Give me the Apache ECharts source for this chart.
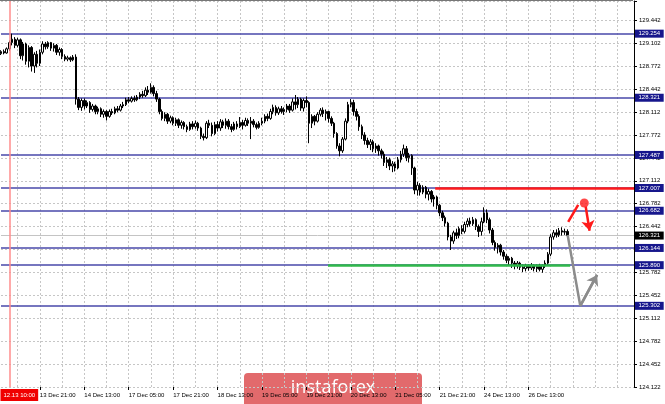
<!DOCTYPE html>
<html><head><meta charset="utf-8">
<script src="https://cdn.jsdelivr.net/npm/echarts@6/dist/echarts.min.js"></script>
<style>html,body{margin:0;padding:0;background:#fff}#c{width:665px;height:404px}</style>
</head><body><div id="c"></div>
<script>
// ---- data ----
const yTickLabels = ['124.122','124.452','124.782','125.112','125.452','125.782','126.112','126.442','126.782','127.112','127.442','127.772','128.112','128.442','128.772','129.102','129.442'];
const xTickLabels = ['13 Dec 21:00','14 Dec 13:00','17 Dec 05:00','17 Dec 21:00','18 Dec 13:00','19 Dec 05:00','19 Dec 21:00','20 Dec 13:00','21 Dec 05:00','21 Dec 21:00','24 Dec 13:00','26 Dec 13:00'];
const levels = [129.254, 128.321, 127.487, 127.007, 126.682, 126.144, 125.890, 125.302];
const currentPrice = 126.321;
const separatorIndex = 3;
const separatorLabel = '12.13 10:00';
const slotCount = 229;
const firstLabelSlot = 14, labelEvery = 16, gridEvery = 8, firstGridSlot = 6;
const redLevel = 127.007, redLevelFrom = 156.4;
const greenLevel = 125.89, greenFrom = 117.8, greenTo = 205;
const grayPath = [[204.1,126.328],[208.65,125.30],[214.7,125.748]];
const redPath = [[204.3,126.517],[207.9,126.764]];
const redDot = [210.1,126.793];
const redArrow = [[210.6,126.74],[212.0,126.39]];
// candles: [open, close, low, high]
const candles = [
[128.96,128.99,128.94,129.01],[128.99,128.97,128.95,129.02],[128.97,129.03,128.96,129.05],[129.03,129.12,129.00,129.15],
[129.12,129.17,129.08,129.25],[129.17,129.08,129.04,129.20],[129.08,129.16,129.05,129.19],[129.16,128.93,128.88,129.18],
[128.93,129.10,128.86,129.13],[129.10,128.85,128.80,129.12],[128.85,129.05,128.76,129.08],[129.05,128.78,128.70,129.07],
[128.78,128.95,128.68,128.98],[128.95,128.82,128.76,129.00],[128.82,128.98,128.78,129.02],[128.98,129.10,128.95,129.14],
[129.10,129.06,129.02,129.13],[129.06,129.12,129.03,129.14],[129.12,129.04,129.00,129.13],[129.04,129.08,128.99,129.11],
[129.08,128.98,128.94,129.10],[128.98,129.02,128.93,129.05],[129.02,128.92,128.88,129.04],[128.92,128.88,128.85,128.95],
[128.88,128.90,128.85,128.93],[128.90,128.87,128.84,128.92],[128.87,128.91,128.85,128.94],[128.91,128.30,128.22,128.95],
[128.30,128.18,128.14,128.33],[128.18,128.28,128.13,128.31],[128.28,128.20,128.15,128.31],[128.20,128.25,128.17,128.28],
[128.25,128.15,128.10,128.27],[128.15,128.20,128.12,128.23],[128.20,128.12,128.08,128.22],[128.12,128.16,128.08,128.19],
[128.16,128.08,128.04,128.18],[128.08,128.12,128.03,128.15],[128.12,128.05,127.99,128.14],[128.05,128.12,128.03,128.15],
[128.12,128.10,128.07,128.16],[128.10,128.16,128.08,128.19],[128.16,128.14,128.11,128.20],[128.14,128.20,128.12,128.23],
[128.20,128.22,128.17,128.26],[128.22,128.29,128.20,128.32],[128.29,128.27,128.24,128.33],[128.27,128.31,128.25,128.34],
[128.31,128.29,128.26,128.35],[128.29,128.33,128.27,128.36],[128.33,128.37,128.30,128.40],[128.37,128.35,128.32,128.42],
[128.35,128.43,128.33,128.47],[128.43,128.40,128.36,128.49],[128.40,128.47,128.38,128.53],[128.47,128.38,128.34,128.50],
[128.38,128.30,128.26,128.42],[128.30,128.12,128.08,128.32],[128.12,128.02,127.99,128.15],[128.02,128.08,127.98,128.11],
[128.08,127.98,127.94,128.10],[127.98,128.03,127.95,128.06],[128.03,127.95,127.92,128.05],[127.95,128.00,127.91,128.03],
[128.00,127.92,127.88,128.02],[127.92,127.96,127.87,127.99],[127.96,127.90,127.86,127.98],[127.90,127.86,127.82,127.93],
[127.86,127.94,127.84,127.97],[127.94,127.90,127.86,127.98],[127.90,127.95,127.87,127.99],[127.95,127.88,127.84,127.97],
[127.88,127.76,127.72,127.90],[127.76,127.74,127.70,127.80],[127.74,127.95,127.72,127.98],[127.95,127.92,127.88,128.00],
[127.92,127.80,127.76,127.96],[127.80,127.93,127.78,127.97],[127.93,127.88,127.83,127.98],[127.88,127.97,127.84,128.01],
[127.97,127.92,127.88,128.00],[127.92,127.98,127.87,128.02],[127.98,127.90,127.86,128.01],[127.90,127.86,127.82,127.94],
[127.86,127.94,127.84,127.97],[127.94,127.90,127.86,127.98],[127.90,127.96,127.88,128.04],[127.96,127.92,127.86,128.00],
[127.92,127.99,127.90,128.03],[127.99,127.95,127.91,128.02],[127.95,127.98,127.72,128.04],[127.98,127.93,127.89,128.01],
[127.93,127.89,127.86,127.96],[127.89,127.95,127.87,127.98],[127.95,127.98,127.92,128.03],[127.98,128.05,127.95,128.08],
[128.05,128.02,127.98,128.09],[128.02,128.12,128.00,128.16],[128.12,128.18,128.08,128.22],[128.18,128.10,128.06,128.21],
[128.10,128.16,128.07,128.19],[128.16,128.12,128.09,128.20],[128.12,128.15,128.07,128.18],[128.15,128.20,128.11,128.23],
[128.20,128.14,128.10,128.23],[128.14,128.26,128.12,128.31],[128.26,128.22,128.15,128.36],[128.22,128.30,128.17,128.33],
[128.30,128.17,128.13,128.32],[128.17,128.28,128.12,128.31],[128.28,128.25,128.18,128.34],[128.25,127.95,127.66,128.27],
[127.95,128.05,127.88,128.08],[128.05,127.98,127.92,128.07],[127.98,128.08,127.96,128.11],[128.08,128.14,128.05,128.17],
[128.14,128.09,128.04,128.18],[128.09,128.12,127.99,128.15],[128.12,128.02,127.96,128.13],[128.02,127.95,127.91,128.05],
[127.95,127.80,127.74,127.97],[127.80,127.62,127.58,127.82],[127.62,127.55,127.47,127.66],[127.55,127.72,127.52,127.75],
[127.72,127.98,127.70,128.02],[127.98,128.22,127.95,128.26],[128.22,128.25,128.18,128.30],[128.25,128.12,128.06,128.29],
[128.12,128.05,127.99,128.16],[128.05,127.90,127.84,128.08],[127.90,127.78,127.72,127.93],[127.78,127.70,127.64,127.82],
[127.70,127.64,127.59,127.74],[127.64,127.68,127.56,127.72],[127.68,127.58,127.53,127.71],[127.58,127.62,127.52,127.66],
[127.62,127.55,127.48,127.64],[127.55,127.50,127.44,127.58],[127.50,127.38,127.33,127.54],[127.38,127.42,127.30,127.46],
[127.42,127.33,127.27,127.45],[127.33,127.36,127.24,127.40],[127.36,127.30,127.25,127.39],[127.30,127.42,127.28,127.46],
[127.42,127.50,127.38,127.55],[127.50,127.58,127.46,127.64],[127.58,127.45,127.40,127.62],[127.45,127.48,127.38,127.52],
[127.48,127.30,127.20,127.50],[127.30,126.98,126.92,127.32],[126.98,127.05,126.90,127.10],[127.05,126.95,126.90,127.08],
[126.95,127.02,126.92,127.05],[127.02,126.92,126.86,127.04],[126.92,126.96,126.83,127.00],[126.96,126.85,126.80,126.98],
[126.85,126.88,126.74,126.91],[126.88,126.76,126.70,126.90],[126.76,126.65,126.60,126.78],[126.65,126.58,126.53,126.68],
[126.58,126.50,126.45,126.61],[126.50,126.30,126.25,126.52],[126.30,126.24,126.11,126.33],[126.24,126.36,126.20,126.39],
[126.36,126.32,126.27,126.42],[126.32,126.42,126.28,126.45],[126.42,126.38,126.34,126.47],[126.38,126.48,126.35,126.52],
[126.48,126.53,126.44,126.57],[126.53,126.49,126.45,126.58],[126.49,126.55,126.46,126.59],[126.55,126.45,126.40,126.57],
[126.45,126.38,126.30,126.48],[126.38,126.52,126.32,126.58],[126.52,126.65,126.50,126.73],[126.65,126.55,126.50,126.70],
[126.55,126.40,126.35,126.58],[126.40,126.22,126.18,126.43],[126.22,126.15,126.10,126.25],[126.15,126.18,126.06,126.21],
[126.18,126.08,126.03,126.20],[126.08,126.02,125.97,126.11],[126.02,125.96,125.92,126.05],[125.96,125.99,125.89,126.02],
[125.99,125.92,125.85,126.01],[125.92,125.88,125.83,125.95],[125.88,125.92,125.84,125.95],[125.92,125.86,125.82,125.94],
[125.86,125.84,125.79,125.90],[125.84,125.88,125.80,125.91],[125.88,125.85,125.81,125.90],[125.85,125.88,125.82,125.92],
[125.88,125.84,125.80,125.90],[125.84,125.87,125.79,125.90],[125.87,125.83,125.80,125.91],[125.83,125.88,125.78,125.90],
[125.88,125.92,125.85,125.96],[125.92,126.05,125.90,126.08],[126.05,126.30,126.02,126.34],[126.30,126.36,126.26,126.40],
[126.36,126.33,126.29,126.41],[126.33,126.39,126.30,126.43],[126.39,126.37,126.32,126.44],[126.37,126.38,126.33,126.42],
[126.38,126.32,126.28,126.41]
];

// ---- chart ----
const FONT = 'Liberation Sans';
const slots = Array.from({length: slotCount}, (_, i) => String(i));
const isLabelSlot = i => i >= firstLabelSlot && (i - firstLabelSlot) % labelEvery === 0 && (i - firstLabelSlot) / labelEvery < xTickLabels.length;
const levelColor = '#4848aa';
const levelLines = levels.map(v => ({
  yAxis: v,
  lineStyle: {color: levelColor, width: 1.5, type: 'solid'},
  label: {show: true, position: 'end', distance: 1, formatter: v.toFixed(3), color: '#fff', backgroundColor: '#16168c', padding: [1, 3.5], fontSize: 6, fontFamily: FONT}
}));
levelLines.push({
  yAxis: currentPrice,
  lineStyle: {color: '#c4c4c4', width: 1, type: 'solid'},
  label: {show: true, position: 'end', distance: 1, formatter: currentPrice.toFixed(3), color: '#fff', backgroundColor: '#000', padding: [1, 3.5], fontSize: 6, fontFamily: FONT}
});

const chart = echarts.init(document.getElementById('c'), null, {renderer: 'canvas'});
chart.setOption({
  animation: false,
  backgroundColor: '#fff',
  grid: {left: 1, right: 31, top: 1, bottom: 17},
  xAxis: [{
    type: 'category', data: slots, boundaryGap: false,
    axisLine: {show: false, onZero: false},
    axisTick: {show: true, interval: (i) => isLabelSlot(i), length: 3, lineStyle: {color: '#000'}},
    axisLabel: {interval: (i) => isLabelSlot(i), formatter: (v) => xTickLabels[(Number(v) - firstLabelSlot) / labelEvery] || '',
      align: 'left', fontSize: 6, color: '#000', margin: 5, fontFamily: FONT},
    splitLine: {show: true, interval: (i) => i >= firstGridSlot && (i - firstGridSlot) % gridEvery === 0,
      lineStyle: {color: '#c6c6c6', type: [2, 2], width: 1}}
  }, {
    type: 'value', min: 0, max: slotCount - 1, show: false,
    axisLine: {show: false, onZero: false}, splitLine: {show: false}, axisTick: {show: false}, axisLabel: {show: false}
  }],
  yAxis: {
    type: 'value', position: 'right', min: 124.122, max: 129.724, interval: 0.3325,
    axisLine: {show: true, onZero: false, lineStyle: {color: '#000'}},
    axisTick: {show: true, length: 3, lineStyle: {color: '#000'}},
    axisLabel: {fontSize: 6, color: '#000', margin: 5, fontFamily: FONT,
      formatter: (v) => { let s = ''; yTickLabels.forEach(t => { if (Math.abs(Number(t) - v) < 0.02) s = t; }); return s; }},
    splitLine: {show: true, lineStyle: {color: '#c6c6c6', type: [2, 2], width: 1}}
  },
  series: [{
    type: 'candlestick', data: candles, barWidth: 2, z: 3,
    itemStyle: {color: '#fff', color0: '#000', borderColor: '#000', borderColor0: '#000', borderWidth: 1},
    markLine: {silent: true, symbol: ['none', 'none'], animation: false, z: 1, data: levelLines}
  }, {
    type: 'line', xAxisIndex: 1, data: grayPath, symbol: 'none', z: 5,
    lineStyle: {color: '#8c8c8c', width: 2.5},
    markLine: {silent: true, symbol: ['none', 'none'], animation: false, label: {show: false},
      data: [
        [{coord: grayPath[1], symbol: 'none', lineStyle: {color: '#8c8c8c', width: 2.5, type: 'solid'}},
         {coord: grayPath[2], symbol: 'arrow', symbolSize: 10, lineStyle: {color: '#8c8c8c', width: 2.5, type: 'solid'}}],
        [{coord: [greenFrom, greenLevel], lineStyle: {color: '#2fb94a', width: 2.5, type: 'solid'}},
         {coord: [greenTo, greenLevel], lineStyle: {color: '#2fb94a', width: 2.5, type: 'solid'}}],
        {xAxis: separatorIndex, lineStyle: {color: '#ff8c8c', width: 1.5, type: 'solid'},
         label: {show: true, position: 'start', formatter: separatorLabel, color: '#fff', backgroundColor: '#f00000',
           padding: [3, 3], fontSize: 6, fontFamily: FONT, offset: [10, -3]}}
      ]}
  }, {
    type: 'line', xAxisIndex: 1, data: redPath, symbol: 'none', z: 5,
    lineStyle: {color: '#ff1a1a', width: 2.5},
    markLine: {silent: true, symbol: ['none', 'none'], animation: false, label: {show: false},
      data: [
        [{coord: [redLevelFrom, redLevel], lineStyle: {color: '#ff1a1a', width: 2.5, type: 'solid'}},
         {coord: [slotCount - 1, redLevel], lineStyle: {color: '#ff1a1a', width: 2.5, type: 'solid'}}],
        [{coord: redArrow[0], symbol: 'none', lineStyle: {color: '#ff1a1a', width: 2.5, type: 'solid'}},
         {coord: redArrow[1], symbol: 'arrow', symbolSize: 10, lineStyle: {color: '#ff1a1a', width: 2.5, type: 'solid'}}]
      ]}
  }, {
    type: 'scatter', xAxisIndex: 1, data: [redDot], symbolSize: 9, z: 6,
    itemStyle: {color: '#ff1a1a'}
  }],
  graphic: [
    {type: 'line', shape: {x1: 0, y1: 0.5, x2: 633, y2: 0.5}, style: {stroke: '#777', lineWidth: 1}, z: 100},
    {type: 'group', left: 244, top: 373, z: 100, children: [
      {type: 'rect', shape: {x: 0, y: 0, width: 178, height: 34, r: 4}, style: {fill: '#e26a6c'}},
      {type: 'text', x: 89, y: 15, style: {text: 'instaforex', fill: '#fff', font: '18px "Open Sans"', textAlign: 'center', textVerticalAlign: 'middle'}}
    ]}
  ]
});
</script></body></html>
